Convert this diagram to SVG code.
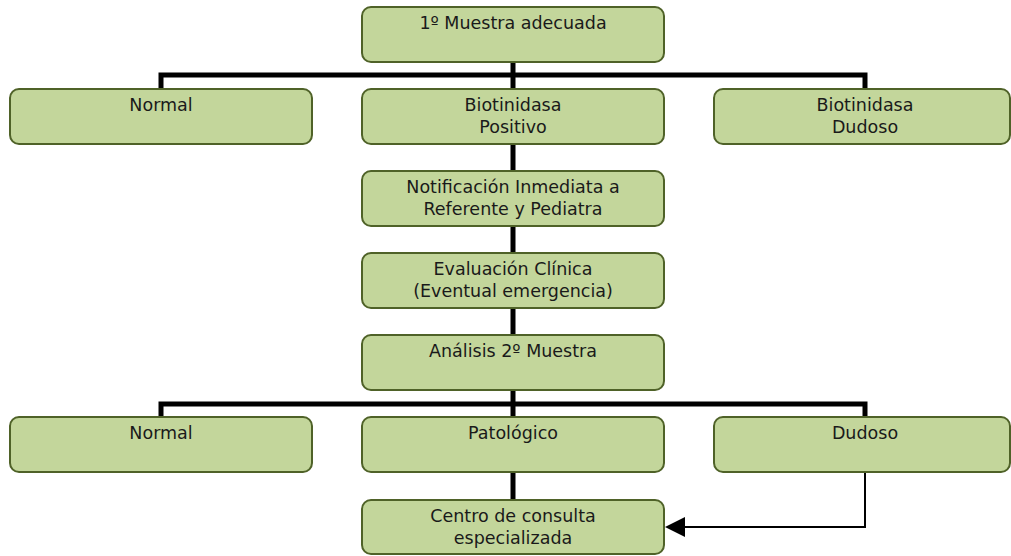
<svg xmlns="http://www.w3.org/2000/svg" width="1011" height="556" viewBox="0 0 1011 556">
  <style>
    .box { fill: #c3d69b; stroke: #4f6228; stroke-width: 2; }
    .label { font-family: "DejaVu Sans", "Liberation Sans", sans-serif; font-size: 17.5px; fill: #1a1a1a; text-anchor: middle; }
    .bus { stroke: #000; stroke-width: 5; fill: none; stroke-linecap: square; }
    .thin { stroke: #000; stroke-width: 2; fill: none; }
  </style>
  <rect width="1011" height="556" fill="#fff"/>

  <!-- connectors -->
  <g id="connectors">
    <path class="bus" d="M513,62 V89 M161,89 V75 H865 V89"/>
    <path class="bus" d="M513,144 V171 M513,226 V253 M513,308 V335"/>
    <path class="bus" d="M513,390 V417 M161,417 V404 H865 V417"/>
    <path class="bus" d="M513,472 V500"/>
    <path class="thin" d="M865,472 V527 H685"/>
    <path d="M665,527 L685,517 L685,537 z" fill="#000"/>
  </g>

  <!-- nodes -->
  <g id="n-primera-muestra">
    <rect class="box" x="362" y="7" width="302" height="55" rx="9"/>
    <text class="label" x="513" y="29">1º Muestra adecuada</text>
  </g>
  <g id="n-normal-1">
    <rect class="box" x="10" y="89" width="302" height="55" rx="9"/>
    <text class="label" x="161" y="111">Normal</text>
  </g>
  <g id="n-biotinidasa-positivo">
    <rect class="box" x="362" y="89" width="302" height="55" rx="9"/>
    <text class="label" x="513" y="111">Biotinidasa</text>
    <text class="label" x="513" y="133">Positivo</text>
  </g>
  <g id="n-biotinidasa-dudoso">
    <rect class="box" x="714" y="89" width="296" height="55" rx="9"/>
    <text class="label" x="865" y="111">Biotinidasa</text>
    <text class="label" x="865" y="133">Dudoso</text>
  </g>
  <g id="n-notificacion">
    <rect class="box" x="362" y="171" width="302" height="55" rx="9"/>
    <text class="label" x="513" y="193">Notificación Inmediata a</text>
    <text class="label" x="513" y="215">Referente y Pediatra</text>
  </g>
  <g id="n-evaluacion">
    <rect class="box" x="362" y="253" width="302" height="55" rx="9"/>
    <text class="label" x="513" y="275">Evaluación Clínica</text>
    <text class="label" x="513" y="297">(Eventual emergencia)</text>
  </g>
  <g id="n-analisis">
    <rect class="box" x="362" y="335" width="302" height="55" rx="9"/>
    <text class="label" x="513" y="357">Análisis 2º Muestra</text>
  </g>
  <g id="n-normal-2">
    <rect class="box" x="10" y="417" width="302" height="55" rx="9"/>
    <text class="label" x="161" y="439">Normal</text>
  </g>
  <g id="n-patologico">
    <rect class="box" x="362" y="417" width="302" height="55" rx="9"/>
    <text class="label" x="513" y="439">Patológico</text>
  </g>
  <g id="n-dudoso">
    <rect class="box" x="714" y="417" width="296" height="55" rx="9"/>
    <text class="label" x="865" y="439">Dudoso</text>
  </g>
  <g id="n-centro">
    <rect class="box" x="362" y="500" width="302" height="54" rx="9"/>
    <text class="label" x="513" y="522">Centro de consulta</text>
    <text class="label" x="513" y="544">especializada</text>
  </g>
</svg>
